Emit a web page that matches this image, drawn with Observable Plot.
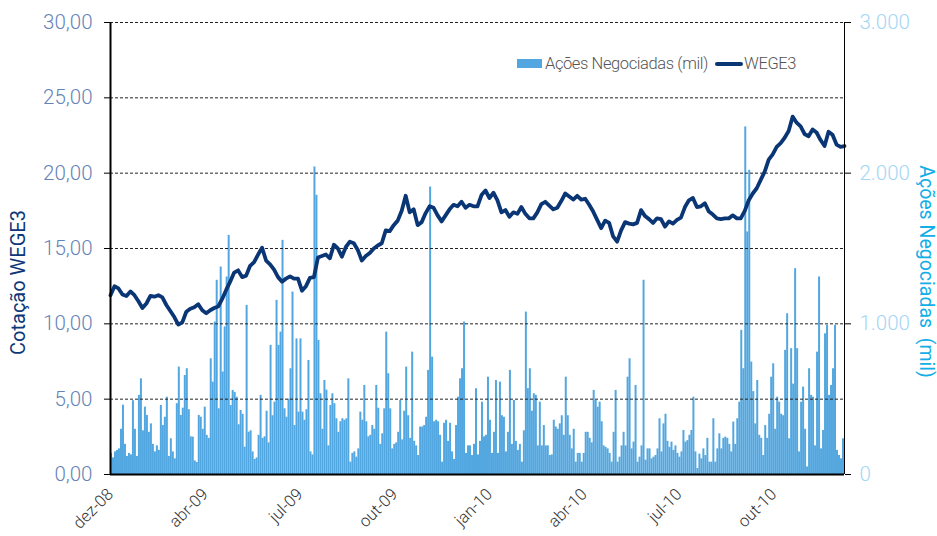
<!DOCTYPE html>
<html>
<head>
<meta charset="utf-8">
<script src="https://cdn.jsdelivr.net/npm/d3@7"></script>
<script src="https://cdn.jsdelivr.net/npm/@observablehq/plot@0.6"></script>
<style>
  html, body { margin: 0; padding: 0; background: #fff; }
  #wrap { position: relative; width: 937px; height: 536px; overflow: hidden; font-family: Roboto, "Liberation Sans", sans-serif; }
  #legend { position: absolute; left: 517px; top: 54px; display: flex; align-items: center; font-size: 16.5px; font-weight: 300; color: #555; letter-spacing: -0.4px; white-space: nowrap; }
  #legend .sw { display: inline-block; width: 25px; height: 9px; background: #53a7e0; margin-right: 3px; }
  #legend .ln { display: inline-block; width: 28px; height: 4px; background: #0a3675; margin: 0 1px 0 7px; border-radius: 2px; }
</style>
</head>
<body>
<div id="wrap">
  <div id="chart"></div>
  <div id="legend"><span class="sw"></span><span>Ações Negociadas (mil)</span><span class="ln"></span><span>WEGE3</span></div>
</div>
<script>
// ---- data ----
const xLabels = ["dez-08", "abr-09", "jul-09", "out-09", "jan-10", "abr-10", "jul-10", "out-10"];
const xTickSessions = [0, 47.5, 95, 142.5, 190, 237.5, 285, 332.5];
const leftTicks = [0, 5, 10, 15, 20, 25, 30];
const rightTicks = [0, 1000, 2000, 3000];

// traded shares (thousands), one bar per session
const volume = [
  140,110,150,160,170,300,460,200,120,140,130,490,300,120,525,635,290,447,392,280,
  336,200,150,190,160,458,325,380,513,120,237,150,104,470,713,392,440,657,702,430,
  250,248,90,80,392,380,300,447,260,240,768,613,1012,1289,436,1377,680,979,1311,1587,
  458,558,545,513,330,425,400,181,1122,281,290,150,100,110,260,525,240,250,420,210,
  857,390,480,1156,857,945,1554,436,380,500,702,1211,
  325,900,414,900,414,360,430,757,150,130,2041,1853,890,536,300,624,560,190,458,536,
  470,370,280,350,370,360,370,635,82,140,150,115,170,414,360,591,350,250,260,325,
  300,591,440,200,270,436,945,669,436,170,200,210,280,491,230,420,713,390,240,812,
  220,190,126,315,315,325,380,691,1908,779,350,360,350,260,82,340,360,220,340,150,
  100,325,513,635,702,1012,140,190,190,126,200,569,
  130,220,480,250,260,646,360,140,280,624,140,613,390,380,150,280,691,200,491,220,
  160,200,82,290,1078,570,702,420,536,525,190,480,190,325,190,190,126,130,360,315,
  300,336,390,260,646,390,260,170,300,82,140,140,82,140,280,280,240,210,558,491,
  447,480,350,190,180,170,140,82,280,558,82,115,190,280,190,646,768,170,215,591,
  82,115,190,1289,95,170,170,104,115,126,170,370,
  150,336,400,220,180,215,160,190,140,115,150,292,215,225,260,292,513,150,40,135,
  104,170,126,240,82,82,370,82,170,270,170,240,248,240,200,150,348,200,370,480,
  957,702,2307,1610,2019,746,550,336,624,260,240,126,325,240,400,646,735,300,513,480,
  400,390,824,1067,237,835,600,1366,835,150,480,580,300,50,702,525,513,190,812,1311,
  170,292,934,990,525,591,702,990,160,126,104,237
];

// WEGE3 closing price (R$), one reading every 2 sessions
const price = [
  11.9,12.5,12.35,11.95,11.85,12.15,11.9,11.5,11.05,11.35,11.85,11.8,11.9,11.75,11.25,10.85,10.45,9.95,10.1,10.8,
  11.0,11.1,11.3,10.9,10.7,10.9,11.05,11.15,11.65,12.25,12.8,13.4,13.55,13.1,13.2,13.85,14.1,14.6,15.05,14.2,
  13.95,13.6,13.1,12.8,13.0,13.15,
  13.0,13.0,12.2,12.5,13.05,13.1,14.4,14.5,14.6,14.35,15.25,15.0,14.45,15.1,15.45,15.35,14.9,14.2,14.5,14.7,
  15.0,15.2,15.35,16.2,16.15,16.55,16.85,17.5,18.5,17.4,17.6,16.55,16.75,17.35,17.8,17.7,17.2,16.8,17.2,17.6,
  17.9,17.8,18.1,17.7,17.9,17.8,
  17.8,18.55,18.85,18.35,18.7,18.2,17.4,17.55,17.1,17.4,17.3,17.75,17.3,17.0,17.0,17.4,17.95,18.1,17.85,17.6,
  17.7,18.15,18.65,18.45,18.25,18.5,18.25,18.3,17.9,17.45,16.9,16.35,16.85,16.7,15.8,15.45,16.2,16.75,16.65,16.6,
  16.7,17.55,17.15,16.95,16.7,17.0,
  16.95,16.45,16.8,16.65,16.9,17.05,17.75,18.2,18.35,17.75,17.8,18.0,17.45,17.25,17.0,16.95,17.0,17.0,17.2,17.0,
  17.0,17.5,18.2,18.65,19.0,19.55,20.1,20.9,21.25,21.75,22.0,22.35,22.8,23.75,23.35,23.1,22.6,22.45,22.9,22.7,
  22.2,21.8,22.75,22.55,21.9,21.75,21.8
];

// ---- build ----
const VOL_PER_UNIT = 100; // 3.000 mil on the right axis ↔ 30,00 on the left axis
const bars = volume.map((v, i) => ({i, v}));
const pts = price.map((p, j) => ({s: j * 2, p}));
const fmtPrice = d => d.toFixed(2).replace(".", ",");
const fmtVol = d => d3.format(",")(d).replace(/,/g, ".");
const FONT = "Roboto, 'Liberation Sans', sans-serif";

const chart = Plot.plot({
  width: 937,
  height: 536,
  marginLeft: 110,
  marginRight: 93,
  marginTop: 22,
  marginBottom: 62,
  style: {fontFamily: FONT, background: "white", overflow: "visible"},
  x: {domain: [0, volume.length], axis: null},
  y: {domain: [0, 30], axis: null},
  marks: [
    Plot.rectY(bars, {x1: "i", x2: d => d.i + 1, y: d => d.v / VOL_PER_UNIT, fill: "#53a7e0", inset: 0}),
    Plot.ruleY(leftTicks.filter(d => d > 0), {stroke: "#222", strokeWidth: 1, strokeDasharray: "3,2"}),
    Plot.lineY(pts, {x: "s", y: "p", stroke: "#0a3675", strokeWidth: 3.8, strokeLinejoin: "round"}),
    Plot.ruleX([0], {stroke: "#000", strokeWidth: 2}),
    Plot.ruleX([volume.length], {stroke: "#000", strokeWidth: 1}),
    Plot.ruleY([0], {stroke: "#000", strokeWidth: 2}),
    Plot.axisY({anchor: "left", ticks: leftTicks, tickFormat: fmtPrice, tickSize: 6, tickPadding: 12,
      stroke: "#000", fill: "#6683b6", fontSize: 20.5, fontWeight: 300, label: null}),
    Plot.axisY({anchor: "right", ticks: rightTicks.map(d => d / VOL_PER_UNIT), tickFormat: d => fmtVol(Math.round(d * VOL_PER_UNIT)),
      tickSize: 6, tickPadding: 9, stroke: "#000", fill: "#a5d6f5", fontSize: 20.5, fontWeight: 300, label: null}),
    Plot.axisX({ticks: xTickSessions, tickFormat: d => xLabels[xTickSessions.indexOf(d)], tickRotate: -45,
      tickSize: 0, tickPadding: 17, fill: "#333", fontSize: 16.5, fontWeight: 300, label: null}),
    Plot.text(["Cotação WEGE3"], {frameAnchor: "left", text: d => d, rotate: -90, dx: -92, dy: 34,
      textAnchor: "middle", fill: "#0d3777", fontSize: 20}),
    Plot.text(["Ações Negociadas  (mil)"], {frameAnchor: "right", text: d => d, rotate: 90, dx: 82, dy: 23,
      textAnchor: "middle", fill: "#12aee8", fontSize: 19.5})
  ]
});
document.getElementById("chart").appendChild(chart);
</script>
</body>
</html>
